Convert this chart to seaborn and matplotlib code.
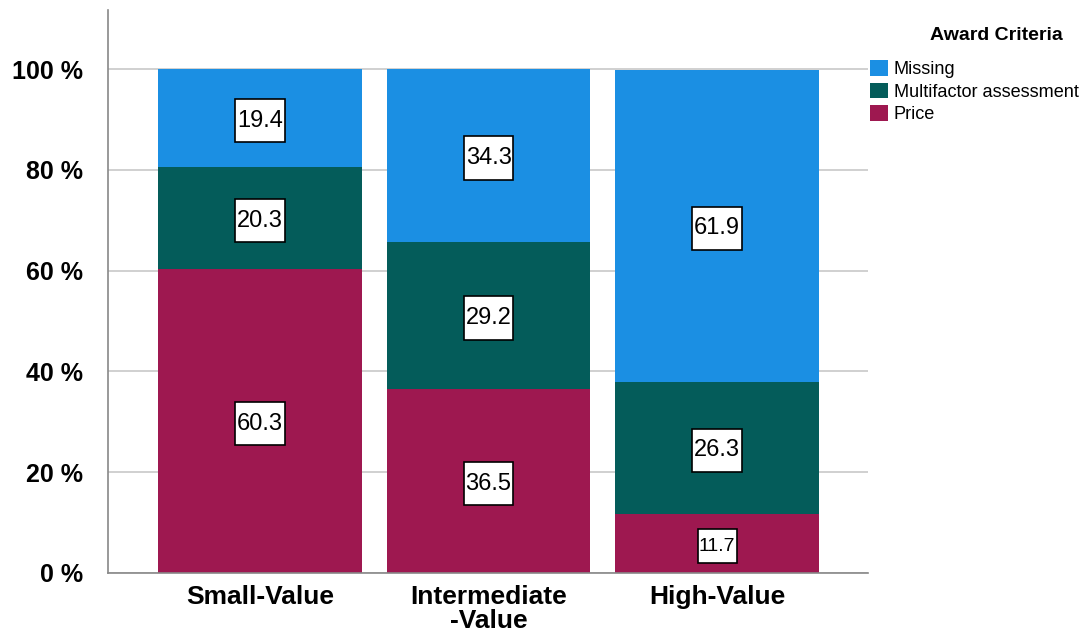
import seaborn as sns
import matplotlib.pyplot as plt
import pandas as pd
from matplotlib.path import Path

categories = ["Small-Value", "Intermediate\n-Value", "High-Value"]
price = [60.3, 36.5, 11.7]
multifactor = [20.3, 29.2, 26.3]
missing = [19.4, 34.3, 61.9]
criteria = ["Missing", "Multifactor assessment", "Price"]
colors = {"Missing": "#1B8FE3", "Multifactor assessment": "#045C5A", "Price": "#9E1850"}

sns.set_style("white")
plt.rcParams["font.family"] = ["Liberation Sans", "DejaVu Sans"]
plt.rcParams["text.color"] = "black"
plt.rcParams["xtick.color"] = "black"
plt.rcParams["ytick.color"] = "black"

df = pd.DataFrame({"category": categories, "Price": price,
                   "Multifactor assessment": multifactor, "Missing": missing})
# cumulative tops for the stacked look
df["top_price"] = df["Price"]
df["top_multi"] = df["Price"] + df["Multifactor assessment"]
df["top_missing"] = df["top_multi"] + df["Missing"]


def tall_box(x0, y0, width, height, mutation_size):
    # narrow side padding, tall top/bottom padding like the SPSS labels
    px = 0.07 * mutation_size
    py = 0.45 * mutation_size
    x0, y0 = x0 - px, y0 - py
    x1, y1 = x0 + width + 2 * px, y0 + height + 2 * py
    return Path([(x0, y0), (x1, y0), (x1, y1), (x0, y1), (x0, y0)], closed=True)


fig = plt.figure(figsize=(10.85, 6.39), dpi=100)
ax = fig.add_axes([0.0995, 0.1033, 0.7005, 0.8807])

for col, name in [("top_missing", "Missing"), ("top_multi", "Multifactor assessment"),
                  ("top_price", "Price")]:
    sns.barplot(data=df, x="category", y=col, color=colors[name], width=0.89,
                saturation=1, ax=ax, label=name, zorder=2, linewidth=0)

# value labels in white boxes
for i, row in df.iterrows():
    segs = [(row["Price"] / 2, row["Price"]),
            (row["Price"] + row["Multifactor assessment"] / 2, row["Multifactor assessment"]),
            (row["top_multi"] + row["Missing"] / 2, row["Missing"])]
    for y, v in segs:
        small = v < 15
        ax.text(i, y - 0.5, f"{v:.1f}", ha="center", va="center",
                fontsize=14 if small else 17, zorder=5, color="black",
                bbox=dict(boxstyle=tall_box, fc="white", ec="black", lw=1.2))

ax.set_xlim(-0.665, 2.66)
ax.set_ylim(0, 111.7)
ax.set_yticks([0, 20, 40, 60, 80, 100])
ax.set_yticklabels([f"{t} %" for t in [0, 20, 40, 60, 80, 100]],
                   fontsize=18, fontweight="bold")
ax.tick_params(axis="x", labelsize=19, length=0, pad=9)
ax.tick_params(axis="y", length=0, pad=18)
for lbl in ax.get_xticklabels():
    lbl.set_fontweight("bold")
    lbl.set_linespacing(1.0)
ax.set_xlabel("")
ax.set_ylabel("")
ax.yaxis.grid(True, color="#C8C8C8", lw=1.2, zorder=0)
ax.set_axisbelow(True)
for s in ["top", "right"]:
    ax.spines[s].set_visible(False)
for s in ["left", "bottom"]:
    ax.spines[s].set_color("#888888")
    ax.spines[s].set_linewidth(1.2)

handles, labels = ax.get_legend_handles_labels()
order = [labels.index(c) for c in criteria]
ax.legend([handles[k] for k in order], [labels[k] for k in order],
          loc="upper left", bbox_to_anchor=(870 / 1085, 1 - 60 / 639),
          bbox_transform=fig.transFigure, frameon=False, fontsize=13.1,
          handlelength=1.0, handleheight=0.95, handletextpad=0.3, labelspacing=0.25,
          borderaxespad=0, borderpad=0)
fig.text(996 / 1085, 1 - 36 / 639, "Award Criteria", ha="center", va="center",
         fontsize=14, fontweight="bold")

fig.savefig("out.png", dpi=100)
